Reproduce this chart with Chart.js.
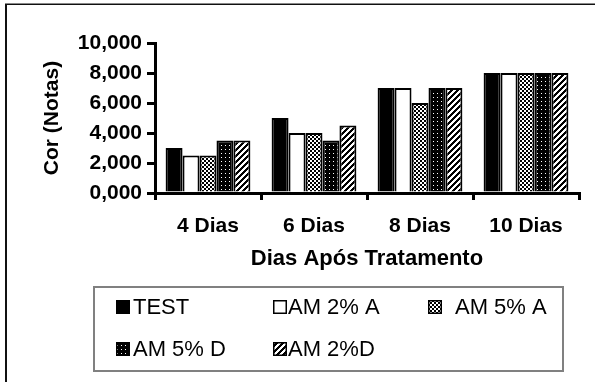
<!DOCTYPE html>
<html>
<head>
<meta charset="utf-8">
<script src="https://cdn.jsdelivr.net/npm/chart.js@4.4.0/dist/chart.umd.min.js"></script>
<style>
html, body { margin: 0; padding: 0; background: #fff; }
</style>
</head>
<body>
<canvas id="chart1" width="595" height="382"></canvas>
<script>
// DATA
const categories = ["4 Dias", "6 Dias", "8 Dias", "10 Dias"];
const seriesNames = ["TEST", "AM 2% A", "AM 5% A", "AM 5% D", "AM 2%D"];
const test = [3, 5, 7, 8];
const am2A = [2.5, 4, 7, 8];
const am5A = [2.5, 4, 6, 8];
const am5D = [3.5, 3.5, 7, 8];
const am2D = [3.5, 4.5, 7, 8];
const yTicks = [0, 2, 4, 6, 8, 10];

const FONT = "'Liberation Sans', Arial, sans-serif";
const canvas = document.getElementById("chart1");
const ctx = canvas.getContext("2d");

// fill patterns like the old excel ones
function makePattern(kind) {
  const c = document.createElement("canvas");
  const n = kind === "stripe" ? 6 : 4;
  c.width = n;
  c.height = n;
  const g = c.getContext("2d");
  g.fillStyle = "#fff";
  g.fillRect(0, 0, n, n);
  g.fillStyle = "#000";
  for (let x = 0; x < n; x++) {
    for (let y = 0; y < n; y++) {
      let black = false;
      if (kind === "checker") black = (Math.floor(x / 2) + Math.floor(y / 2)) % 2 === 0;
      if (kind === "dots") black = !(x === 1 && y === 1);
      if (kind === "stripe") black = (x + y) % 6 < 3;
      if (black) g.fillRect(x, y, 1, 1);
    }
  }
  return ctx.createPattern(c, "repeat");
}

const fills = ["#000", "#fff", makePattern("checker"), makePattern("dots"), makePattern("stripe")];
const values = [test, am2A, am5A, am5D, am2D];

// legend slots: swatch x, row y, text x
const legendSlots = [
  [116, 307, 133],
  [273, 307, 288],
  [428, 307, 455],
  [116, 349, 133],
  [273, 349, 288],
];

const framePlugin = {
  id: "frame",
  beforeDraw(chart) {
    const c = chart.ctx;
    c.save();
    c.fillStyle = "#fff";
    c.fillRect(0, 0, chart.width, chart.height);
    c.fillStyle = "#888";
    c.fillRect(5, 3, 590, 1);
    c.fillStyle = "#111";
    c.fillRect(5, 4, 590, 1);
    c.fillRect(5, 4, 2, 378);
    c.restore();
  },
};

const boxLegend = {
  id: "boxLegend",
  afterDraw(chart) {
    const c = chart.ctx;
    c.save();
    c.strokeStyle = "#808080";
    c.lineWidth = 2;
    c.strokeRect(94, 287, 469, 84);
    c.font = "22px " + FONT;
    c.textBaseline = "middle";
    chart.data.datasets.forEach((ds, i) => {
      const [sx, sy, tx] = legendSlots[i];
      c.fillStyle = ds.backgroundColor;
      c.fillRect(sx, sy - 7, 14, 14);
      c.strokeStyle = "#000";
      c.lineWidth = 1.5;
      c.strokeRect(sx + 0.75, sy - 6.25, 12.5, 12.5);
      c.fillStyle = "#000";
      c.fillText(ds.label, tx, sy + 1);
    });
    c.restore();
  },
};

const boldFont = { family: FONT, size: 21, weight: "bold" };

new Chart(ctx, {
  type: "bar",
  data: {
    labels: categories,
    datasets: seriesNames.map((name, i) => ({
      label: name,
      data: values[i],
      backgroundColor: fills[i],
      borderColor: "#000",
      borderWidth: 2,
      categoryPercentage: 0.8,
      barPercentage: 1.0,
    })),
  },
  options: {
    responsive: false,
    animation: false,
    layout: { padding: { top: 43, right: 16, bottom: 110, left: 0 } },
    plugins: { legend: { display: false }, tooltip: { enabled: false } },
    scales: {
      x: {
        grid: { offset: true, drawOnChartArea: false, color: "#000", lineWidth: 3, tickLength: 7 },
        border: { color: "#000", width: 3 },
        ticks: { color: "#000", font: boldFont, padding: 14, maxRotation: 0 },
        title: {
          display: true,
          text: "Dias Após Tratamento",
          color: "#000",
          font: { family: FONT, size: 22, weight: "bold" },
          padding: { top: 0, bottom: 0 },
        },
        afterFit: (s) => { s.height = 79; },
      },
      y: {
        min: 0,
        max: 10,
        afterBuildTicks: (s) => { s.ticks = yTicks.map((v) => ({ value: v })); },
        grid: { drawOnChartArea: false, color: "#000", lineWidth: 3, tickLength: 8 },
        border: { color: "#000", width: 3 },
        ticks: {
          color: "#000",
          font: boldFont,
          padding: 5,
          callback: (v) => Number(v).toFixed(3).replace(".", ","),
        },
        title: {
          display: true,
          text: "Cor (Notas)",
          color: "#000",
          font: boldFont,
          padding: { top: 40, bottom: 0 },
        },
        afterFit: (s) => { s.width = 155; },
      },
    },
  },
  plugins: [framePlugin, boxLegend],
});
</script>
</body>
</html>
